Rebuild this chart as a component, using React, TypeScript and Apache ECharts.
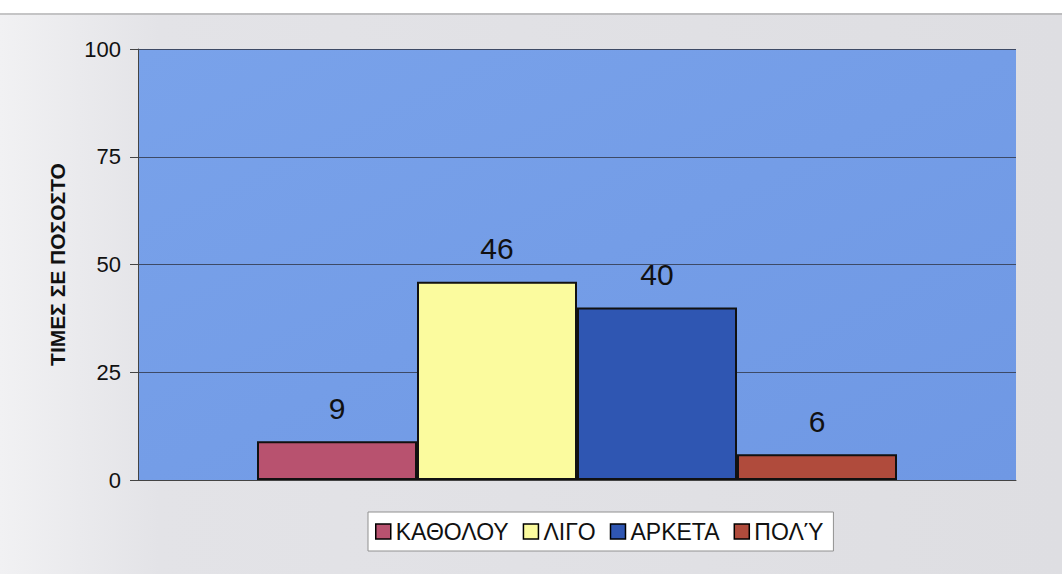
import React, { useEffect, useRef } from "react";
import * as echarts from "echarts";

const categories = [""];
const seriesNames = ["ΚΑΘΟΛΟΥ", "ΛΙΓΟ", "ΑΡΚΕΤΑ", "ΠΟΛΎ"];
const seriesValues = [9, 46, 40, 6];
const seriesColors = ["#b8526f", "#fbfb9e", "#2f56b2", "#b04b3c"];
const yTicks = [0, 25, 50, 75, 100];
const yTitle = "ΤΙΜΕΣ ΣΕ ΠΟΣΟΣΤΟ";

export default function App() {
  const ref = useRef<HTMLDivElement>(null);
  useEffect(() => {
    if (!ref.current) return;
    const chart = echarts.init(ref.current, null, { renderer: "svg" });
    chart.setOption({
      animation: false,
      backgroundColor: {
        type: "linear", x: 0, y: 0, x2: 1, y2: 0,
        colorStops: [
          { offset: 0, color: "#f1f1f3" },
          { offset: 0.15, color: "#e3e3e7" },
          { offset: 1, color: "#dedee2" },
        ],
      },
      graphic: [
        { type: "rect", left: 0, top: 0, shape: { width: 1062, height: 13 }, style: { fill: "#ffffff" }, silent: true },
        { type: "line", shape: { x1: 0, y1: 14, x2: 1062, y2: 14 }, style: { stroke: "#9a9a9a", lineWidth: 1 }, silent: true },
      ],
      grid: {
        left: 138, right: 46, top: 49, bottom: 94,
        show: true,
        borderWidth: 0,
        backgroundColor: {
          type: "linear", x: 0, y: 0, x2: 1, y2: 1,
          colorStops: [
            { offset: 0, color: "#79a2ea" },
            { offset: 1, color: "#6f98e4" },
          ],
        },
      },
      legend: {
        top: 512,
        left: 368,
        data: seriesNames,
        itemWidth: 15,
        itemHeight: 15,
        itemGap: 14,
        backgroundColor: "#ffffff",
        borderColor: "#909090",
        borderWidth: 1,
        borderRadius: 0,
        padding: [8, 10, 8, 7],
        textStyle: { fontFamily: "Liberation Sans, Arial", fontSize: 23, color: "#111" },
        itemStyle: { borderColor: "#000", borderWidth: 1.5 },
        icon: "rect",
      },
      xAxis: {
        type: "category",
        data: categories,
        axisLine: { show: true, lineStyle: { color: "#444", width: 1 } },
        axisTick: { show: false },
        axisLabel: { show: false },
      },
      yAxis: {
        type: "value",
        min: 0,
        max: 100,
        interval: 25,
        name: yTitle,
        nameLocation: "middle",
        nameGap: 70,
        nameTextStyle: { fontFamily: "Liberation Sans, Arial", fontSize: 21, fontWeight: "bold", color: "#111" },
        axisLine: { show: true, lineStyle: { color: "#444", width: 1 } },
        axisTick: { show: true, length: 8, lineStyle: { color: "#444" } },
        axisLabel: {
          fontFamily: "Liberation Sans, Arial", fontSize: 22, color: "#111", margin: 17,
          formatter: (v: number) => (yTicks.includes(v) ? String(v) : ""),
        },
        splitLine: { show: true, lineStyle: { color: "#3d4a66", width: 1 } },
      },
      series: seriesNames.map((name, i) => ({
        name,
        type: "bar",
        data: [seriesValues[i]],
        barWidth: 160,
        barGap: "0%",
        itemStyle: { color: seriesColors[i], borderColor: "#111", borderWidth: 2 },
        label: {
          show: true,
          position: "top",
          distance: 18,
          fontFamily: "Liberation Sans, Arial",
          fontSize: 30,
          color: "#111",
        },
      })),
    });
    return () => chart.dispose();
  }, []);
  return <div ref={ref} style={{ position: "absolute", left: 0, top: 0, width: 1062, height: 574 }} />;
}
